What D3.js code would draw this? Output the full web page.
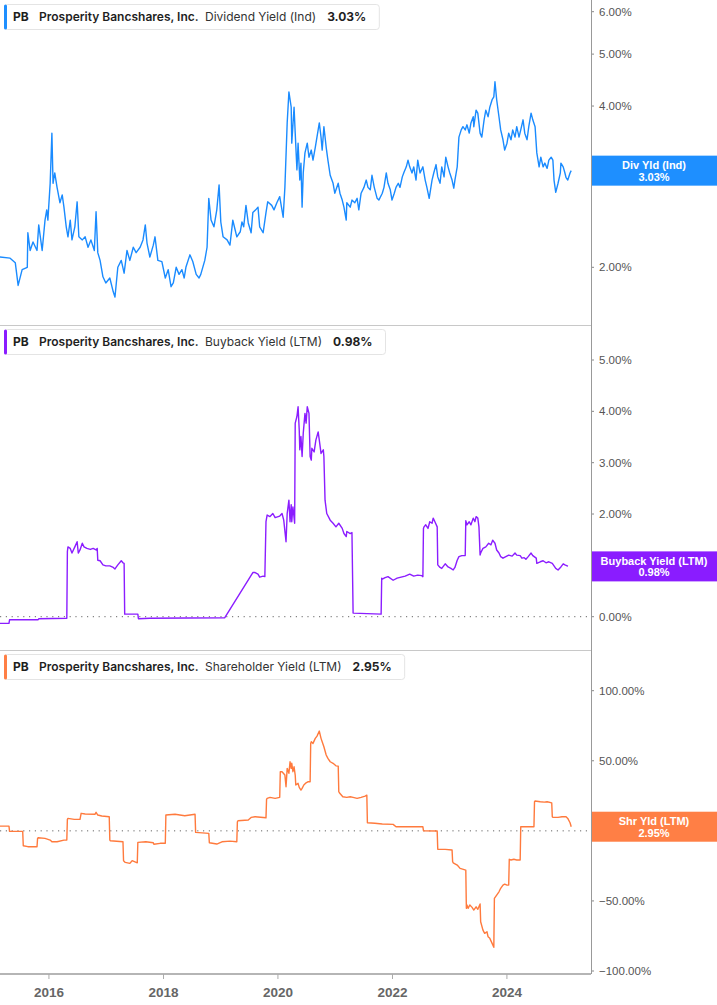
<!DOCTYPE html>
<html>
<head>
<meta charset="utf-8">
<script src="https://cdn.jsdelivr.net/npm/d3@7"></script>
<style>
  body { margin: 0; background: #fff; }
  svg { display: block; }
  .ytick text { font-family: "Liberation Sans", Arial, sans-serif; font-size: 11.5px; fill: #555; }
  .legend text { font-family: Inter, "Noto Sans", sans-serif; font-size: 12px; fill: #1f1f1f; }
  .badge text { font-family: "Liberation Sans", Arial, sans-serif; font-size: 11px; font-weight: bold; fill: #fff; }
</style>
</head>
<body>
<div id="chart"></div>
<script>
// ticks
var yearTicks = [2016, 2018, 2020, 2022, 2024];
var divTicks = [2, 3, 4, 5, 6];
var buybackTicks = [0, 1, 2, 3, 4, 5];
var shrTicks = [-100, -50, 0, 50, 100];

// last values shown in legends / badges
var divLast = 3.03, buybackLast = 0.98, shrLast = 2.95;

// [decimal year, % value]
var divYield = [
  [2015.15,2.09],[2015.33,2.08],[2015.42,2.04],[2015.47,1.85],[2015.54,1.98],[2015.63,2.00],[2015.64,2.32],[2015.68,2.15],[2015.73,2.23],[2015.80,2.15],[2015.83,2.40],[2015.89,2.15],[2015.94,2.45],[2015.97,2.56],[2015.99,2.45],
  [2016.03,2.87],[2016.06,3.56],[2016.08,2.87],[2016.11,3.00],[2016.15,2.82],[2016.20,2.64],[2016.24,2.73],[2016.27,2.59],[2016.31,2.38],[2016.34,2.28],[2016.38,2.45],[2016.41,2.25],[2016.46,2.38],[2016.50,2.65],[2016.53,2.28],[2016.59,2.25],[2016.64,2.28],[2016.69,2.18],[2016.74,2.25],[2016.80,2.15],[2016.83,2.54],[2016.86,2.13],[2016.90,2.06],[2016.95,1.92],
  [2017.00,1.87],[2017.07,1.91],[2017.13,1.80],[2017.16,1.76],[2017.21,2.00],[2017.27,2.06],[2017.32,1.95],[2017.37,2.15],[2017.42,2.06],[2017.48,2.18],[2017.53,2.13],[2017.60,2.18],[2017.65,2.25],[2017.69,2.40],[2017.72,2.22],[2017.77,2.09],[2017.83,2.20],[2017.86,2.28],[2017.91,2.06],[2017.98,2.05],
  [2018.04,1.91],[2018.09,1.98],[2018.14,1.84],[2018.18,1.87],[2018.23,2.00],[2018.28,1.94],[2018.33,1.98],[2018.37,1.91],[2018.40,2.00],[2018.47,2.11],[2018.52,2.05],[2018.58,1.94],[2018.63,1.91],[2018.66,1.94],[2018.73,2.06],[2018.77,2.18],[2018.80,2.69],[2018.84,2.45],[2018.89,2.38],[2018.94,2.56],[2018.98,2.85],
  [2019.01,2.43],[2019.05,2.28],[2019.12,2.25],[2019.17,2.20],[2019.22,2.45],[2019.26,2.35],[2019.29,2.28],[2019.35,2.33],[2019.38,2.43],[2019.41,2.38],[2019.45,2.61],[2019.49,2.42],[2019.54,2.32],[2019.57,2.53],[2019.62,2.56],[2019.66,2.59],[2019.69,2.38],[2019.75,2.32],[2019.80,2.53],[2019.83,2.65],[2019.90,2.61],[2019.94,2.56],[2019.99,2.64],
  [2020.04,2.71],[2020.10,2.48],[2020.13,2.82],[2020.17,3.72],[2020.20,4.25],[2020.24,3.98],[2020.25,3.41],[2020.29,3.98],[2020.31,3.56],[2020.34,3.04],[2020.36,3.41],[2020.39,2.91],[2020.41,3.13],[2020.43,2.59],[2020.45,3.00],[2020.48,3.27],[2020.52,3.41],[2020.55,3.21],[2020.59,3.31],[2020.62,3.17],[2020.66,3.35],[2020.71,3.61],[2020.73,3.72],[2020.76,3.50],[2020.78,3.31],[2020.81,3.66],[2020.85,3.35],[2020.88,3.17],[2020.92,2.97],[2020.97,2.87],
  [2021.00,2.75],[2021.06,2.87],[2021.09,2.75],[2021.13,2.67],[2021.16,2.59],[2021.20,2.45],[2021.21,2.64],[2021.27,2.59],[2021.30,2.67],[2021.35,2.64],[2021.39,2.69],[2021.42,2.56],[2021.46,2.75],[2021.51,2.82],[2021.55,2.91],[2021.58,2.82],[2021.62,2.79],[2021.65,2.97],[2021.69,2.82],[2021.74,2.69],[2021.77,2.67],[2021.83,2.75],[2021.86,2.82],[2021.90,3.00],[2021.93,2.87],[2021.97,2.79],
  [2022.00,2.67],[2022.04,2.75],[2022.07,2.82],[2022.11,2.87],[2022.14,2.82],[2022.18,2.95],[2022.21,3.01],[2022.25,3.08],[2022.28,3.17],[2022.31,3.08],[2022.35,3.00],[2022.38,3.08],[2022.42,2.91],[2022.45,3.17],[2022.49,3.00],[2022.54,3.08],[2022.58,2.91],[2022.61,2.82],[2022.65,2.69],[2022.70,2.91],[2022.73,3.00],[2022.77,3.11],[2022.80,2.95],[2022.84,2.87],[2022.87,3.08],[2022.91,2.95],[2022.94,3.21],[2022.98,3.08],
  [2023.01,3.00],[2023.05,2.91],[2023.08,2.81],[2023.10,2.91],[2023.14,3.08],[2023.17,3.50],[2023.21,3.61],[2023.24,3.66],[2023.28,3.61],[2023.31,3.69],[2023.35,3.56],[2023.38,3.72],[2023.42,3.82],[2023.43,3.66],[2023.47,3.93],[2023.50,3.88],[2023.54,3.56],[2023.57,3.50],[2023.61,3.77],[2023.64,3.93],[2023.68,3.82],[2023.71,3.98],[2023.75,4.11],[2023.78,4.16],[2023.80,4.44],[2023.83,4.11],[2023.87,3.82],[2023.90,3.61],[2023.94,3.46],[2023.97,3.31],
  [2024.01,3.41],[2024.04,3.56],[2024.08,3.46],[2024.11,3.61],[2024.15,3.50],[2024.18,3.66],[2024.22,3.50],[2024.25,3.61],[2024.29,3.77],[2024.32,3.56],[2024.36,3.46],[2024.39,3.66],[2024.43,3.88],[2024.46,3.77],[2024.50,3.66],[2024.53,3.27],[2024.57,3.08],[2024.60,3.21],[2024.64,3.08],[2024.67,3.13],[2024.71,3.06],[2024.74,3.17],[2024.78,3.21],[2024.81,3.17],[2024.83,2.91],[2024.86,2.76],[2024.90,2.87],[2024.94,3.00],[2024.95,3.13],[2024.99,3.08],
  [2025.02,3.00],[2025.04,2.94],[2025.07,2.91],[2025.11,3.00],[2025.13,3.03]
];

var buybackYield = [
  [2015.15,-0.13],[2015.31,-0.13],[2015.32,-0.06],[2015.82,-0.06],[2015.83,-0.04],[2016.32,-0.03],
  [2016.33,1.27],[2016.34,1.36],[2016.38,1.33],[2016.41,1.24],[2016.46,1.36],[2016.50,1.46],[2016.52,1.24],[2016.55,1.30],[2016.59,1.43],[2016.62,1.36],[2016.67,1.33],[2016.73,1.31],[2016.78,1.33],[2016.83,1.30],[2016.85,1.33],[2016.86,1.10],[2016.90,1.09],[2016.95,1.01],
  [2017.00,0.99],[2017.07,0.99],[2017.13,0.96],[2017.16,0.93],[2017.21,1.01],[2017.27,1.09],[2017.30,1.05],[2017.32,1.04],[2017.33,0.05],[2017.56,0.05],[2017.57,-0.04],[2017.77,-0.03],
  [2019.08,-0.02],[2019.57,0.86],[2019.61,0.86],[2019.66,0.83],[2019.69,0.77],[2019.75,0.79],[2019.78,0.78],[2019.80,1.85],[2019.82,1.98],[2019.87,1.95],[2019.92,2.01],[2019.96,1.93],
  [2020.04,1.96],[2020.08,2.01],[2020.11,1.88],[2020.15,1.46],[2020.17,2.01],[2020.20,2.27],[2020.22,1.85],[2020.24,2.18],[2020.25,1.85],[2020.27,2.14],[2020.30,1.82],[2020.31,3.77],[2020.34,3.90],[2020.36,4.09],[2020.38,3.64],[2020.39,3.25],[2020.41,3.51],[2020.43,3.12],[2020.45,3.57],[2020.48,3.96],[2020.50,3.77],[2020.52,4.09],[2020.55,3.96],[2020.57,3.12],[2020.59,3.05],[2020.60,3.28],[2020.64,3.21],[2020.67,3.44],[2020.71,3.60],[2020.73,3.44],[2020.76,3.18],[2020.80,3.25],[2020.81,3.12],[2020.83,2.27],[2020.86,2.01],[2020.92,1.88],[2020.97,1.82],
  [2021.02,1.75],[2021.07,1.82],[2021.13,1.72],[2021.16,1.62],[2021.20,1.56],[2021.21,1.66],[2021.27,1.62],[2021.30,1.64],[2021.32,0.07],[2021.81,0.05],[2021.82,0.75],[2021.83,0.73],[2021.88,0.76],[2021.93,0.78],
  [2022.02,0.71],[2022.09,0.75],[2022.23,0.79],[2022.31,0.83],[2022.38,0.79],[2022.45,0.81],[2022.52,0.80],[2022.54,0.78],[2022.55,1.72],[2022.56,1.75],[2022.59,1.79],[2022.63,1.72],[2022.66,1.85],[2022.70,1.82],[2022.72,1.92],[2022.75,1.85],[2022.79,1.75],[2022.80,1.01],[2022.84,0.96],[2022.87,0.94],[2022.93,1.03],[2022.98,0.97],
  [2023.03,0.94],[2023.07,0.91],[2023.10,0.96],[2023.14,1.10],[2023.17,1.17],[2023.22,1.19],[2023.28,1.19],[2023.29,1.87],[2023.31,1.79],[2023.35,1.85],[2023.38,1.79],[2023.42,1.92],[2023.45,1.85],[2023.47,1.95],[2023.50,1.92],[2023.52,1.75],[2023.54,1.20],[2023.55,1.24],[2023.59,1.33],[2023.64,1.36],[2023.69,1.43],[2023.73,1.40],[2023.76,1.49],[2023.80,1.43],[2023.83,1.30],[2023.87,1.24],[2023.90,1.17],[2023.94,1.14],[2023.99,1.17],
  [2024.04,1.20],[2024.10,1.18],[2024.15,1.24],[2024.18,1.20],[2024.24,1.19],[2024.27,1.14],[2024.31,1.15],[2024.34,1.12],[2024.38,1.17],[2024.43,1.24],[2024.46,1.19],[2024.52,1.14],[2024.53,1.04],[2024.59,1.07],[2024.64,1.09],[2024.69,1.05],[2024.74,1.07],[2024.80,1.04],[2024.83,0.99],[2024.86,0.94],[2024.90,0.91],[2024.95,0.97],[2024.99,1.03],
  [2025.02,1.01],[2025.06,0.99],[2025.07,0.98]
];

var shrYield = [
  [2015.15,3.4],[2015.31,3.4],[2015.32,-0.4],[2015.55,-0.4],[2015.56,-10.6],[2015.64,-11.3],[2015.80,-11.3],[2015.81,-5.4],[2015.82,-4.9],[2015.94,-5.4],
  [2016.03,-6.6],[2016.06,-7.8],[2016.15,-7.8],[2016.27,-6.6],[2016.32,-6.6],[2016.33,8.2],[2016.34,8.9],[2016.45,8.2],[2016.55,8.2],[2016.57,12.5],[2016.64,12.0],[2016.81,11.8],[2016.83,13.2],[2016.86,11.3],[2016.93,10.6],
  [2017.06,10.1],[2017.07,-6.6],[2017.08,-7.1],[2017.30,-7.8],[2017.31,-21.3],[2017.34,-22.5],[2017.42,-23.2],[2017.46,-21.3],[2017.55,-22.8],[2017.56,-8.2],[2017.70,-7.8],[2017.83,-8.5],[2017.84,-9.6],[2017.95,-8.9],
  [2018.04,-8.9],[2018.05,11.3],[2018.21,11.8],[2018.38,10.8],[2018.56,11.8],[2018.57,-1.1],[2018.80,-1.8],[2018.81,-8.5],[2018.94,-9.4],
  [2019.03,-7.8],[2019.17,-7.3],[2019.29,-7.8],[2019.30,6.5],[2019.31,7.2],[2019.49,7.7],[2019.54,9.6],[2019.61,10.1],[2019.80,9.3],[2019.81,22.5],[2019.82,23.2],[2019.87,23.9],[2019.96,23.2],
  [2020.04,23.9],[2020.05,42.2],[2020.08,42.2],[2020.13,39.8],[2020.15,31.5],[2020.17,44.6],[2020.20,41.0],[2020.22,49.3],[2020.24,44.6],[2020.25,48.2],[2020.27,42.2],[2020.29,45.7],[2020.31,39.8],[2020.32,32.7],[2020.36,33.9],[2020.38,31.0],[2020.41,29.1],[2020.43,30.3],[2020.46,32.7],[2020.50,34.3],[2020.53,35.0],[2020.57,35.0],[2020.58,62.4],[2020.59,63.6],[2020.62,62.4],[2020.66,66.0],[2020.69,67.6],[2020.73,71.2],[2020.76,66.0],[2020.78,63.6],[2020.81,60.0],[2020.85,54.1],[2020.88,51.7],[2020.92,49.3],[2020.97,48.2],
  [2021.02,46.4],[2021.06,46.2],[2021.07,27.9],[2021.08,27.2],[2021.14,24.3],[2021.21,23.9],[2021.27,24.3],[2021.32,23.9],[2021.39,23.2],[2021.46,23.9],[2021.53,24.8],[2021.56,25.5],[2021.57,5.8],[2021.70,5.4],[2021.83,4.9],
  [2022.02,4.6],[2022.07,2.9],[2022.31,2.9],[2022.54,2.9],[2022.55,0.1],[2022.79,-0.1],[2022.80,-13.2],[2022.93,-13.2],
  [2023.05,-13.7],[2023.06,-22.0],[2023.07,-22.8],[2023.14,-24.4],[2023.19,-26.8],[2023.29,-28.0],[2023.30,-55.3],[2023.31,-52.9],[2023.33,-55.3],[2023.36,-52.9],[2023.40,-54.6],[2023.43,-56.5],[2023.47,-54.2],[2023.50,-56.0],[2023.54,-52.2],[2023.55,-64.9],[2023.59,-70.8],[2023.62,-73.1],[2023.66,-72.0],[2023.68,-75.6],[2023.71,-76.7],[2023.75,-80.3],[2023.78,-83.1],[2023.79,-48.2],[2023.83,-45.8],[2023.87,-43.5],[2023.90,-41.0],[2023.94,-38.7],[2023.97,-38.0],
  [2024.01,-38.7],[2024.04,-38.7],[2024.05,-20.3],[2024.08,-20.8],[2024.13,-20.3],[2024.18,-20.8],[2024.24,-20.8],[2024.25,2.9],[2024.38,2.9],[2024.48,2.9],[2024.49,20.8],[2024.50,21.3],[2024.59,20.8],[2024.66,20.5],[2024.71,20.8],[2024.79,20.0],[2024.80,10.1],[2024.81,9.6],[2024.90,9.6],[2024.97,10.1],
  [2025.04,10.1],[2025.07,8.9],[2025.11,5.8],[2025.13,2.95]
];

var W = 717, H = 1005, plotR = 591, axisY = 974;

function toDate(t) {
  var yr = Math.floor(t), a = Date.UTC(yr, 0, 1), b = Date.UTC(yr + 1, 0, 1);
  return new Date(a + (t - yr) * (b - a));
}

var svg = d3.select("#chart").append("svg")
  .attr("width", W)
  .attr("height", H);

var x = d3.scaleUtc()
  .domain([toDate(2015.153), toDate(2025.476)])
  .range([0, plotR]);

var panels = [
  {top: 0, bottom: 325, data: divYield, ticks: divTicks, last: divLast, zero: false,
   y: d3.scaleLog().domain([2, 6]).range([267.3, 11.7]),
   color: "#1a8bff", badgeFill: "#1e8fff",
   metric: "Dividend Yield (Ind)", badge: "Div Yld (Ind)"},
  {top: 325, bottom: 650, data: buybackYield, ticks: buybackTicks, last: buybackLast, zero: true,
   y: d3.scaleLinear().domain([0, 5]).range([616.7, 360]),
   color: "#8b1dff", badgeFill: "#8a1cff",
   metric: "Buyback Yield (LTM)", badge: "Buyback Yield (LTM)"},
  {top: 650, bottom: axisY, data: shrYield, ticks: shrTicks, last: shrLast, zero: true,
   y: d3.scaleLinear().domain([-100, 100]).range([971, 690.7]),
   color: "#ff7a3d", badgeFill: "#ff7f45",
   metric: "Shareholder Yield (LTM)", badge: "Shr Yld (LTM)"}
];

var fmt = d3.format(".2f");

panels.forEach(function(p, i) {
  // separator
  if (i > 0) {
    svg.append("line")
      .attr("x1", 0).attr("x2", plotR)
      .attr("y1", p.top + 0.5).attr("y2", p.top + 0.5)
      .attr("stroke", "#c8c8c8");
  }

  // right axis ticks
  var ty = svg.append("g").attr("class", "ytick");
  p.ticks.forEach(function(t) {
    var yy = p.y(t);
    ty.append("line")
      .attr("x1", plotR).attr("x2", plotR + 3)
      .attr("y1", yy).attr("y2", yy)
      .attr("stroke", "#888");
    ty.append("text")
      .attr("x", plotR + 8).attr("y", yy).attr("dy", "0.35em")
      .text(fmt(t) + "%");
  });

  // zero line
  if (p.zero) {
    svg.append("line")
      .attr("x1", 0).attr("x2", plotR)
      .attr("y1", p.y(0)).attr("y2", p.y(0))
      .attr("stroke", "#666")
      .attr("stroke-width", 1)
      .attr("stroke-dasharray", "1.2,4.6");
  }

  svg.append("clipPath").attr("id", "clip" + i)
    .append("rect").attr("x", 0).attr("y", p.top).attr("width", plotR).attr("height", p.bottom - p.top);

  var line = d3.line()
    .x(function(d) { return x(toDate(d[0])); })
    .y(function(d) { return p.y(d[1]); });

  svg.append("path")
    .datum(p.data)
    .attr("clip-path", "url(#clip" + i + ")")
    .attr("fill", "none")
    .attr("stroke", p.color)
    .attr("stroke-width", 1.4)
    .attr("stroke-linejoin", "round")
    .attr("d", line);

  // legend
  var lg = svg.append("g").attr("class", "legend");
  var box = lg.append("rect")
    .attr("x", 4.5).attr("y", p.top + 4.5)
    .attr("height", 25).attr("rx", 3)
    .attr("fill", "#fff").attr("stroke", "#e4e4e4");
  lg.append("rect")
    .attr("x", 4).attr("y", p.top + 4.5)
    .attr("width", 3).attr("height", 25).attr("rx", 1.5)
    .attr("fill", p.badgeFill);
  var base = p.top + 21;
  lg.append("text").attr("x", 13).attr("y", base).attr("font-weight", 700).text("PB");
  lg.append("text").attr("x", 39).attr("y", base).attr("font-weight", 600).text("Prosperity Bancshares, Inc.");
  var m = lg.append("text").attr("x", 205).attr("y", base).attr("font-weight", 400).style("fill", "#333").text(p.metric);
  var vx = 205 + m.node().getComputedTextLength() + 11;
  var v = lg.append("text").attr("x", vx).attr("y", base).attr("font-weight", 700).text(fmt(p.last) + "%");
  box.attr("width", vx + v.node().getComputedTextLength() + 13 - 4.5);

  // badge
  var by = p.y(p.last);
  var bg = svg.append("g").attr("class", "badge");
  bg.append("rect")
    .attr("x", plotR).attr("y", by - 15)
    .attr("width", W - plotR).attr("height", 30)
    .attr("fill", p.badgeFill);
  bg.append("text").attr("x", 654).attr("y", by - 1.5).attr("text-anchor", "middle").text(p.badge);
  bg.append("text").attr("x", 654).attr("y", by + 10).attr("text-anchor", "middle").text(fmt(p.last) + "%");
});

// right axis line
svg.append("line")
  .attr("x1", plotR + 0.5).attr("x2", plotR + 0.5)
  .attr("y1", 0).attr("y2", axisY)
  .attr("stroke", "#999");

// bottom time axis
var xa = svg.append("g").attr("transform", "translate(0," + axisY + ")")
  .call(d3.axisBottom(x)
    .tickValues(yearTicks.map(function(yr) { return toDate(yr); }))
    .tickFormat(d3.utcFormat("%Y"))
    .tickSize(5)
    .tickPadding(8));
xa.select(".domain").attr("stroke", "#b5b5b5").attr("stroke-width", 2).attr("d", "M0,0H" + plotR);
xa.selectAll(".tick line").attr("stroke", "#aaa");
xa.selectAll(".tick text")
  .attr("fill", "#666")
  .style("font-family", "'Liberation Sans', Arial, sans-serif")
  .style("font-size", "13.5px")
  .style("font-weight", "bold");
</script>
</body>
</html>
